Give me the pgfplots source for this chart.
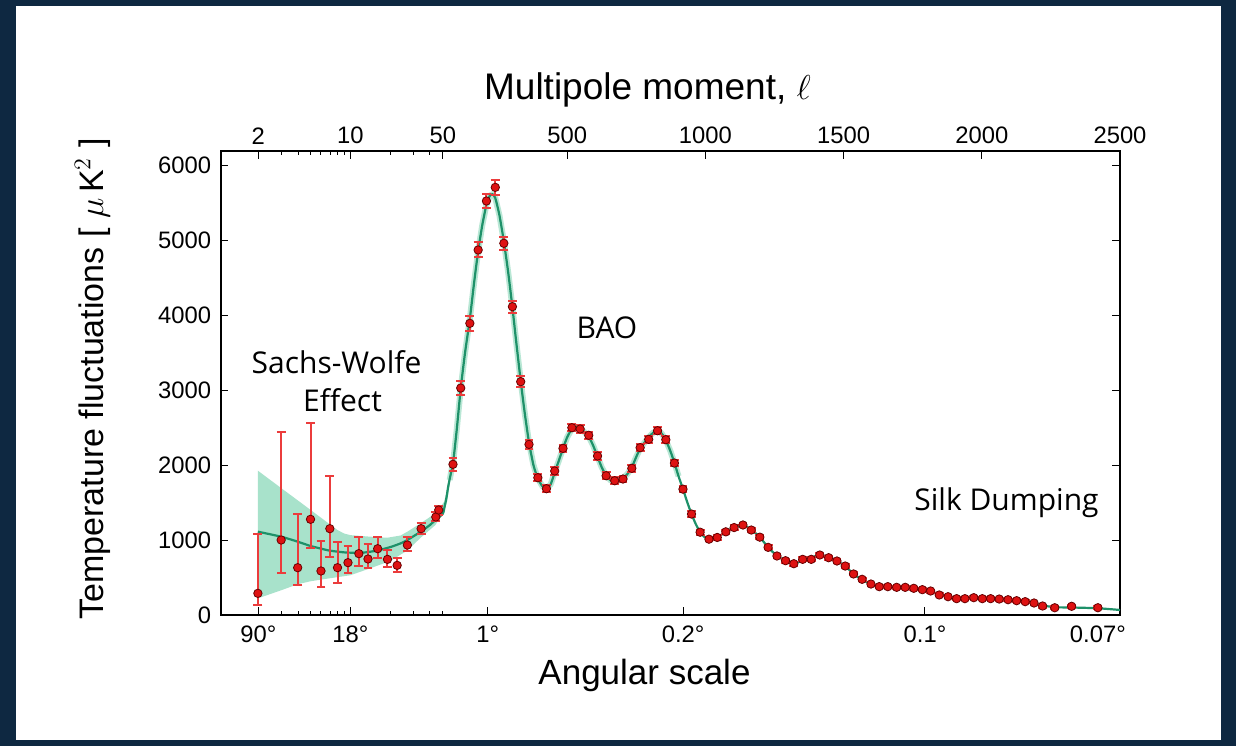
\documentclass[border=0pt]{standalone}
\usepackage{fontspec}
\setmainfont{Liberation Sans}
\newfontfamily\annfont{Open Sans}
\usepackage{pgfplots}
\usepackage{pgfplotstable}
\pgfplotsset{compat=1.18}
\definecolor{navy}{RGB}{14,40,65}
\definecolor{fitgreen}{RGB}{30,145,105}
\definecolor{bandgreen}{RGB}{168,226,203}
\definecolor{ptred}{RGB}{222,18,18}
\definecolor{errred}{RGB}{235,60,60}

% low multipoles: l, D_l [muK^2], error plus, error minus
\pgfplotstableread{
l D ep em
2 289 795 156
3 1000 1444 444
4 631 720 235
5 1276 1288 387
6 587 400 209
7 1151 702 382
8 631 342 209
9.6 698 226 142
11.6 818 226 160
13.6 747 200 125
16.1 884 156 128
19.1 742 125 98
22.6 662 94 84
27 933 103 84
34.3 1151 70 70
44.3 1307 60 60
46.6 1400 60 60
}\lowdata

% binned high multipoles
\pgfplotstableread{
l D ep em
87 2009 90 90
115 3026 90 90
148 3889 100 100
178 4867 100 100
208 5520 100 100
240 5702 100 100
271 4956 90 90
302 4111 80 80
332 3111 70 70
362 2275 60 60
394 1831 50 50
425 1684 50 50
455 1920 50 50
485 2222 50 50
517 2497 50 50
547 2480 50 50
578 2396 50 50
610 2120 50 50
641 1857 45 45
672 1790 45 45
702 1813 45 45
734 1956 45 45
764 2231 45 45
795 2342 45 45
827 2457 45 45
857 2337 45 45
888 2026 40 40
919 1678 40 40
950 1346 35 35
981 1104 35 35
1013 1011 30 30
1043 1034 30 30
1074 1109 30 30
1104 1166 30 30
1136 1200 30 30
1166 1133 30 30
1197 1038 30 30
1227 902 25 25
1259 787 25 25
1290 724 25 25
1320 684 25 25
1352 742 25 25
1383 742 25 25
1414 800 25 25
1446 764 25 25
1476 720 25 25
1506 653 25 25
1536 547 20 20
1567 476 20 20
1599 413 20 20
1629 378 20 20
1660 378 20 20
1692 369 20 20
1723 369 20 20
1754 356 20 20
1785 338 20 20
1815 320 20 20
1846 267 20 20
1878 244 20 20
1909 218 20 20
1939 218 20 20
1971 231 20 20
2002 218 20 20
2032 218 20 20
2063 213 20 20
2095 204 20 20
2126 191 20 20
2157 178 20 20
2189 160 20 20
2220 120 20 20
2264 97 20 20
2325 116 20 20
2420 97 20 20
}\highdata

% best-fit model
\pgfplotstableread{
l D
2 1111
3 1044
4 978
5 920
6 885
7 858
9 835
11 830
13 835
16 860
20 905
24 955
27 1000
34 1110
40 1200
44 1267
50 1350
57 1450
63 1556
70 1720
80 1900
87 2020
100 2450
115 3020
130 3480
148 3950
163 4420
178 4850
193 5200
208 5470
220 5590
230 5610
240 5560
255 5330
271 4980
287 4560
302 4100
317 3600
332 3120
347 2680
362 2300
378 2000
394 1820
410 1720
425 1690
440 1740
455 1900
470 2060
485 2220
500 2370
517 2480
532 2510
547 2490
562 2440
578 2380
594 2260
610 2110
625 1970
641 1860
656 1800
672 1785
687 1795
702 1820
718 1880
734 1970
749 2100
764 2220
780 2300
795 2370
811 2430
827 2455
842 2420
857 2330
873 2190
888 2030
903 1850
919 1680
934 1510
950 1346
965 1215
981 1105
997 1040
1013 1012
1028 1015
1043 1035
1058 1070
1074 1108
1089 1140
1104 1168
1120 1190
1136 1195
1151 1172
1166 1135
1182 1090
1197 1038
1212 970
1227 905
1243 843
1259 790
1275 752
1290 724
1305 700
1320 690
1336 705
1352 735
1367 750
1383 765
1398 785
1414 795
1430 790
1446 766
1461 742
1476 718
1491 688
1506 650
1521 600
1536 548
1552 505
1567 474
1583 440
1599 414
1614 394
1629 382
1660 376
1692 370
1723 366
1754 356
1785 338
1815 316
1846 272
1878 243
1909 224
1939 218
1971 224
2002 220
2032 216
2063 211
2095 202
2126 190
2157 176
2189 158
2220 128
2264 104
2325 100
2420 90
2500 67
}\model

% cosmic-variance band (upper edge left to right, lower edge right to left)
\pgfplotstableread{
l D
2 1924
3 1692
4 1529
5 1401
6 1297
7 1209
8 1133
9 1085
10 1065
14 1045
19 1030
24 1060
27 1111
34 1222
44 1356
55 1510
65 1660
75 1870
75 1730
65 1500
55 1390
44 1200
34 1030
27 860
20 720
14 620
10 530
7 490
5 450
4 410
3 330
2 222
}\band

\begin{document}
\begin{tikzpicture}[x=1pt,y=1pt]
\fill[navy] (0,0) rectangle (618,373);
\fill[white] (8,3) rectangle (610.5,370);

\begin{axis}[
  at={(110.35pt,65.5pt)}, anchor=south west,
  scale only axis, width=449.65pt, height=231.9pt,
  x coord trafo/.code={\pgfmathparse{#1<=50 ? 57.41*ln(#1/50) : 0.2763*(#1-50)}},
  xmin=1.041, xmax=2500, ymin=0, ymax=6184,
  xtick={2,10,50,500,1000,1500,2000,2500},
  xticklabels={2,10,50,500,1000,1500,2000,2500},
  minor xtick={3,4,5,6,7,8,9,20,30,40},
  xtick pos=upper, xticklabel pos=upper,
  ytick={0,1000,2000,3000,4000,5000,6000},
  yticklabels={0,1000,2000,3000,4000,5000,6000},
  ytick pos=both, yticklabel pos=lower,
  tick align=inside,
  major tick length=3.8pt, minor tick length=2pt,
  tick style={black, line width=0.5pt},
  axis line style={black, line width=0.9pt},
  ticklabel style={font=\fontsize{11.9}{14}\selectfont},
  yticklabel style={xshift=-1.3pt},
]
\addplot[fill=bandgreen, draw=none] table[x=l,y=D] \band -- cycle;
\addplot[bandgreen, line width=3pt, opacity=0.8] table[x=l,y=D] {
l D
75 1800
80 1900
87 2020
100 2450
115 3020
130 3480
148 3950
163 4420
178 4850
193 5200
208 5470
220 5590
230 5610
240 5560
255 5330
271 4980
287 4560
302 4100
317 3600
332 3120
347 2680
362 2300
378 2000
394 1820
410 1720
425 1690
440 1740
455 1900
470 2060
485 2220
500 2370
517 2480
532 2510
547 2490
562 2440
578 2380
594 2260
610 2110
625 1970
641 1860
656 1800
672 1785
687 1795
702 1820
718 1880
734 1970
749 2100
764 2220
780 2300
795 2370
811 2430
827 2455
842 2420
857 2330
873 2190
888 2030
903 1850
};
\addplot[fitgreen, line width=1.1pt, smooth, tension=0.4] table[x=l,y=D] \model;
\addplot[only marks, mark=*, mark size=2.1pt,
  mark options={fill=ptred, draw=black!60!red, line width=0.4pt},
  error bars/.cd, y dir=both, y explicit,
  error bar style={draw=errred, line width=1pt},
  error mark options={draw=errred, rotate=90, mark size=2.2pt, line width=1pt}]
  table[x=l, y=D, y error plus=ep, y error minus=em] \lowdata;
\addplot[only marks, mark=*, mark size=2.1pt,
  mark options={fill=ptred, draw=black!60!red, line width=0.4pt},
  error bars/.cd, y dir=both, y explicit,
  error bar style={draw=errred, line width=1pt},
  error mark options={draw=errred, rotate=90, mark size=2.2pt, line width=1pt}]
  table[x=l, y=D, y error plus=ep, y error minus=em] \highdata;
\end{axis}

\begin{axis}[
  at={(110.35pt,65.5pt)}, anchor=south west,
  scale only axis, width=449.65pt, height=231.9pt,
  x coord trafo/.code={\pgfmathparse{#1<=50 ? 57.41*ln(#1/50) : 0.2763*(#1-50)}},
  xmin=1.041, xmax=2500, ymin=0, ymax=6184,
  axis line style={draw=none},
  ytick=\empty,
  xtick={2,10,212.9,919.7,1794.5},
  xticklabels={90°,18°,1°,0.2°,0.1°},
  extra x ticks={2420},
  extra x tick labels={0.07°},
  extra x tick style={major tick length=0pt},
  minor xtick={3,4,5,6,7,8,9,20,30,40,50},
  xtick pos=lower, xticklabel pos=lower,
  tick align=inside,
  major tick length=3.8pt, minor tick length=2pt,
  tick style={black, line width=0.5pt},
  ticklabel style={font=\fontsize{11.9}{14}\selectfont},
  xticklabel style={yshift=-1.8pt},
]
\end{axis}

\node[font=\fontsize{18.5}{22}\selectfont, anchor=base] at (323.75,323) {Multipole moment, $\ell$};
\node[font=\fontsize{17.5}{21}\selectfont, anchor=base] at (322.25,31) {Angular scale};
\node[font=\fontsize{17}{20}\selectfont, rotate=90, anchor=base] at (51.5,183.5) {Temperature fluctuations [ $\mu\,$K$^2$ ]};

\node[font=\annfont\fontsize{15}{18}\selectfont, anchor=base] at (168.25,186.5) {Sachs-Wolfe};
\node[font=\annfont\fontsize{15}{18}\selectfont, anchor=base] at (171.25,167.5) {Effect};
\node[font=\annfont\fontsize{15}{18}\selectfont, anchor=base] at (303.5,204) {BAO};
\node[font=\annfont\fontsize{15}{18}\selectfont, anchor=base] at (503.25,118) {Silk Dumping};
\end{tikzpicture}
\end{document}
